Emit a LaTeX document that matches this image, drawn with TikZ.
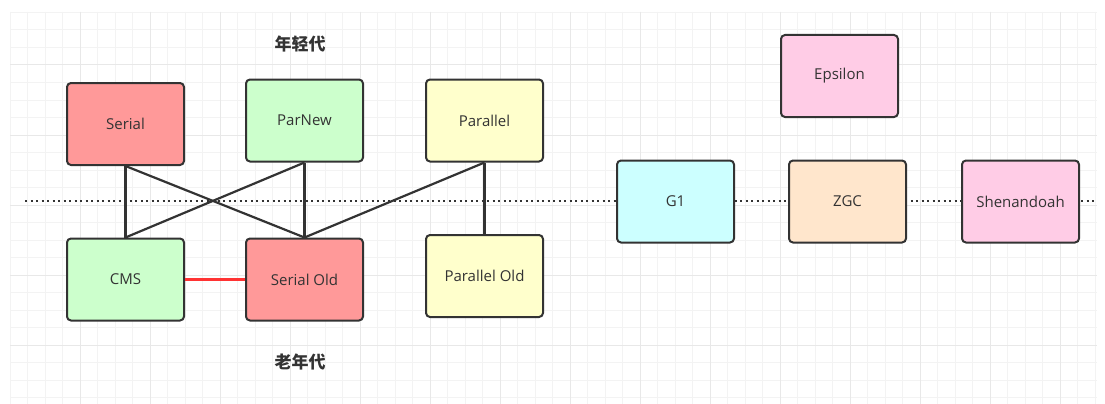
\documentclass[tikz,border=0pt]{standalone}
\usepackage{fontspec}
\setmainfont{Open Sans}
\newfontfamily\cjk{Noto Sans CJK SC}
\usepackage{tikz}

\definecolor{gridminor}{HTML}{F3F3F3}
\definecolor{gridmajor}{HTML}{E8E8E8}
\definecolor{edgegray}{HTML}{333333}
\definecolor{fillred}{HTML}{FF9999}
\definecolor{fillgreen}{HTML}{CCFFCC}
\definecolor{fillyellow}{HTML}{FFFFCC}
\definecolor{fillcyan}{HTML}{CCFFFF}
\definecolor{fillpeach}{HTML}{FFE6CC}
\definecolor{fillpink}{HTML}{FFCCE6}
\definecolor{linkred}{HTML}{FF3333}

\begin{document}
\begin{tikzpicture}[x=1pt,y=-1pt,
  gcbox/.style={draw=edgegray,line width=2pt,rounded corners=4pt,
    minimum width=117pt,minimum height=82pt,inner sep=0pt,
    text=edgegray,font=\fontsize{15}{17}\selectfont},
  link/.style={draw=edgegray,line width=2.2pt},
  redlink/.style={draw=linkred,line width=2.2pt},
  genlabel/.style={font=\cjk\bfseries\fontsize{17}{19}\selectfont,text=edgegray}]
  \useasboundingbox (0,0) rectangle (1105,404);
  \fill[white] (0,0) rectangle (1105,404);
  % grid
  \foreach \x in {10,27.5,...,1097} {
    \draw[gridminor,line width=1pt] (\x,12) -- (\x,404);
  }
  \foreach \y in {12.5,30,...,404} {
    \draw[gridminor,line width=1pt] (10,\y) -- (1097,\y);
  }
  \foreach \x in {80,150,...,1097} {
    \draw[gridmajor,line width=1pt] (\x,12) -- (\x,404);
  }
  \foreach \y in {65,135,...,404} {
    \draw[gridmajor,line width=1pt] (10,\y) -- (1097,\y);
  }
  % generation divider
  \coordinate (dotL) at (25,201);
  \coordinate (dotR) at (1097,201);
  \draw[edgegray,line width=2.2pt,dash pattern=on 2.2pt off 3.3pt] (dotL) -- (dotR);

  \node[genlabel] (young) at (300,44) {年轻代};
  \node[genlabel] (old) at (300,362) {老年代};

  % young generation
  \node[gcbox,fill=fillred] (serial) at (125.5,124) {Serial};
  \node[gcbox,fill=fillgreen] (parnew) at (304.5,120.5) {ParNew};
  \node[gcbox,fill=fillyellow] (parallel) at (484.5,120.5) {Parallel};
  % old generation
  \node[gcbox,fill=fillgreen] (cms) at (125.5,279.5) {CMS};
  \node[gcbox,fill=fillred] (serialold) at (304.5,279.5) {Serial Old};
  \node[gcbox,fill=fillyellow] (parallelold) at (484.5,276) {Parallel Old};
  % whole heap
  \node[gcbox,fill=fillcyan] (gone) at (675.5,201.5) {G1};
  \node[gcbox,fill=fillpink] (epsilon) at (839.5,76) {Epsilon};
  \node[gcbox,fill=fillpeach] (zgc) at (847.5,201.5) {ZGC};
  \node[gcbox,fill=fillpink] (shenandoah) at (1020.5,201.5) {Shenandoah};

  % combinations
  \draw[link] (serial.south) -- (cms.north);
  \draw[link] (serial.south) -- (serialold.north);
  \draw[link] (parnew.south) -- (cms.north);
  \draw[link] (parnew.south) -- (serialold.north);
  \draw[link] (parallel.south) -- (serialold.north);
  \draw[link] (parallel.south) -- (parallelold.north);
  \draw[redlink] (cms.east) -- (serialold.west);
\end{tikzpicture}
\end{document}
